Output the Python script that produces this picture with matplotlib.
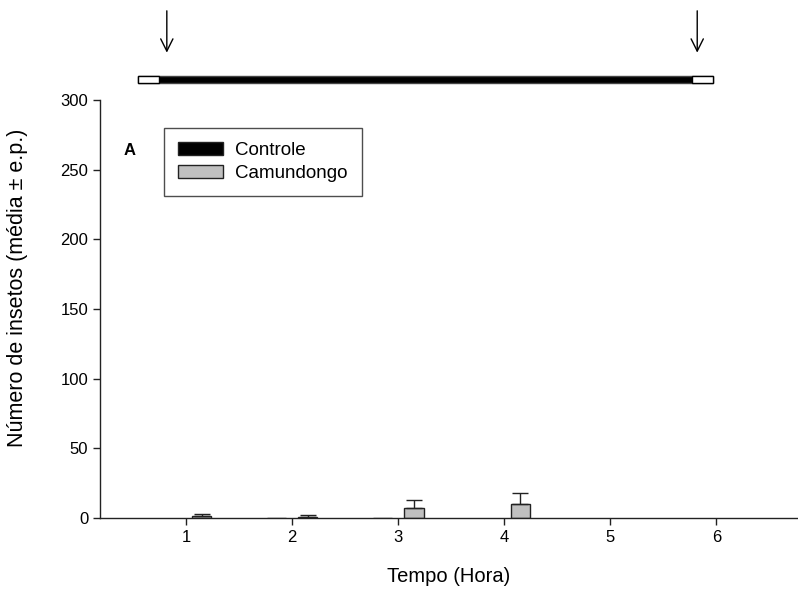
import numpy as np
import matplotlib
matplotlib.use('Agg')
import matplotlib.pyplot as plt
from matplotlib.patches import Rectangle

plt.rcParams['font.family'] = ['Liberation Sans', 'DejaVu Sans']

horas = [1, 2, 3, 4, 5, 6]
controle = [np.nan, 0.3, 0.3, np.nan, np.nan, np.nan]
camundongo = [1.7, 1.0, 7.2, 10.0, np.nan, np.nan]
camundongo_ep = [1.3, 1.4, 6.0, 8.0, 0, 0]

fig = plt.figure(figsize=(7.98, 5.89), dpi=100)
ax = fig.add_axes([0.1253, 0.1205, 0.8747, 0.7097])

x = np.array(horas)
w = 0.18
ax.bar(x - 0.15, controle, w, color='black', edgecolor='#222222', linewidth=1,
       label='Controle')
ax.bar(x + 0.15, camundongo, w, color='#c0c0c0', edgecolor='#222222', linewidth=1,
       label='Camundongo')
ax.errorbar(x + 0.15, camundongo, yerr=[np.zeros(6), camundongo_ep], fmt='none',
            ecolor='#222222', elinewidth=1, capsize=6, capthick=1)

ax.set_xlim(0.19, 6.77)
ax.set_ylim(0, 300)
ax.set_xticks(horas)
ax.set_yticks([0, 50, 100, 150, 200, 250, 300])
ax.tick_params(direction='out', length=5, width=1, labelsize=12, colors='#222222',
               labelcolor='black')
for s in ['top', 'right']:
    ax.spines[s].set_visible(False)
for s in ['left', 'bottom']:
    ax.spines[s].set_color('#222222')
    ax.spines[s].set_linewidth(1)

ax.set_xlabel('Tempo (Hora)', fontsize=14.5, labelpad=16)
ax.set_ylabel('Número de insetos (média ± e.p.)', fontsize=15.5)
ax.yaxis.set_label_coords(-0.103, 0.55)

ax.text(0.47, 264, 'A', fontsize=12, fontweight='bold', ha='center', va='center')

leg = ax.legend(loc='upper left', bbox_to_anchor=(0.0917, 0.933), borderaxespad=0,
                fontsize=13.5, frameon=True, fancybox=False, edgecolor='#222222',
                borderpad=0.75, handlelength=2.4, handleheight=0.7, labelspacing=0.3,
                handletextpad=0.65)
leg.get_frame().set_linewidth(1)

# barra de fotoperiodo e setas no topo
ax.add_patch(Rectangle((0.547, 312), 5.97 - 0.547, 5, facecolor='black',
                       edgecolor='#444444', linewidth=1, clip_on=False))
ax.add_patch(Rectangle((0.547, 312), 0.745 - 0.547, 5, facecolor='white',
                       edgecolor='black', linewidth=1, clip_on=False))
ax.add_patch(Rectangle((5.77, 312), 5.97 - 5.77, 5, facecolor='white',
                       edgecolor='black', linewidth=1, clip_on=False))
for xa in [0.82, 5.82]:
    ax.annotate('', xy=(xa, 332), xytext=(xa, 366), annotation_clip=False,
                arrowprops=dict(arrowstyle='->', color='black', lw=1,
                                mutation_scale=22))

fig.savefig('out.png', dpi=100)
